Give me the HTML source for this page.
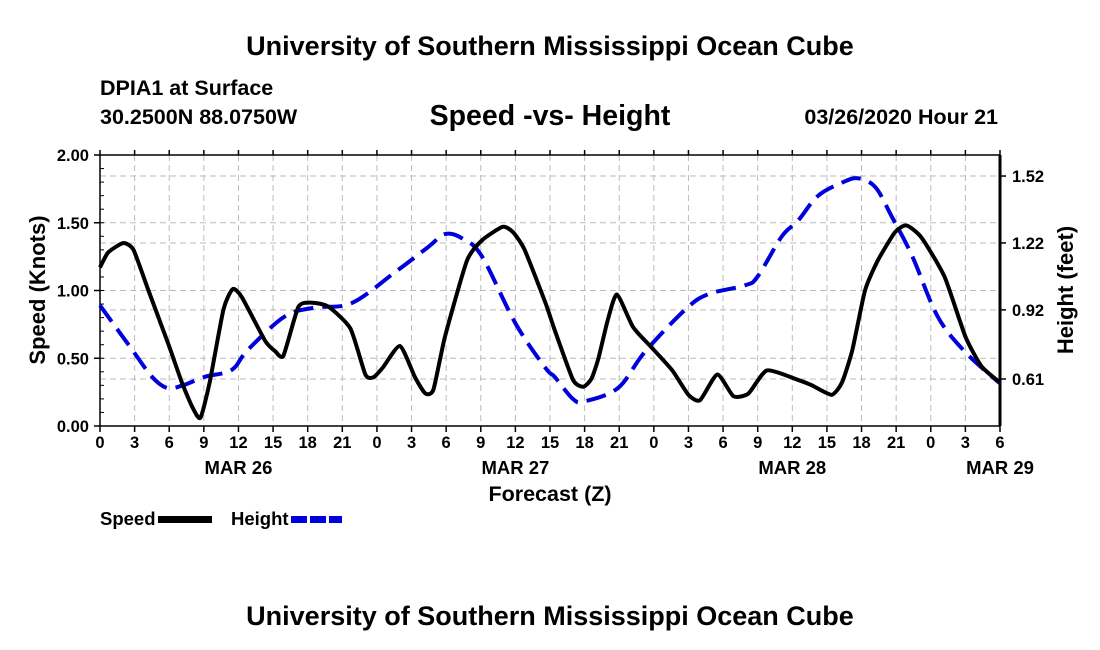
<!DOCTYPE html>
<html><head><meta charset="utf-8"><style>
body{margin:0;background:#fff}
svg{display:block;font-family:"Liberation Sans",Arial,sans-serif;font-weight:bold}
</style></head><body>
<svg id="chart" width="1100" height="650" viewBox="0 0 1100 650">
<rect width="1100" height="650" fill="#fff"/>
<text x="550" y="55" text-anchor="middle" font-size="27">University of Southern Mississippi Ocean Cube</text>
<text x="100" y="95" font-size="21.5">DPIA1 at Surface</text>
<text x="100" y="124" font-size="21.5">30.2500N 88.0750W</text>
<text x="550" y="125" text-anchor="middle" font-size="28.5">Speed -vs- Height</text>
<text x="998" y="124" text-anchor="end" font-size="21.5">03/26/2020 Hour 21</text>
<text transform="translate(45,290) rotate(-90)" text-anchor="middle" font-size="22">Speed (Knots)</text>
<text transform="translate(1073,290) rotate(-90)" text-anchor="middle" font-size="22">Height (feet)</text>
<text x="550" y="501" text-anchor="middle" font-size="21.5">Forecast (Z)</text>
<g id="grid"></g><g id="axes"></g><g id="series"></g>
<g>
<text x="100" y="525" font-size="18.5">Speed</text>
<rect x="158" y="516" width="54" height="7" fill="#000"/>
<text x="231" y="525" font-size="18.5">Height</text>
<line x1="291" y1="519.5" x2="342" y2="519.5" stroke="#0000dd" stroke-width="7" stroke-dasharray="16,3"/>
</g>
<text x="550" y="625" text-anchor="middle" font-size="27">University of Southern Mississippi Ocean Cube</text>
</svg>
<script>
const speedHours=[0,0.7,2,2.9,4.2,5.9,7.1,8,8.7,9.5,10.7,11.5,12.3,14.3,15.2,15.9,17.2,18.4,19.8,21.7,23,23.7,24.5,26,27.3,28.2,28.9,29.9,31.8,33.1,34.9,35.8,36.8,38.6,39.4,41,41.9,42.6,43.2,44,44.8,46.2,47.8,49.6,51,52,53.5,54.9,56.2,57.8,60.5,61.7,63.4,64.3,65.2,66.3,67.4,68.9,69.9,71.2,73.2,75,76.4,78];
const speedValues=[1.17,1.28,1.35,1.30,1.00,0.61,0.32,0.14,0.06,0.32,0.86,1.01,0.95,0.63,0.55,0.52,0.88,0.91,0.88,0.72,0.38,0.36,0.43,0.59,0.36,0.24,0.27,0.66,1.22,1.37,1.47,1.43,1.30,0.91,0.71,0.34,0.29,0.35,0.50,0.78,0.97,0.73,0.58,0.41,0.23,0.19,0.38,0.22,0.24,0.41,0.34,0.30,0.23,0.32,0.56,1.00,1.22,1.43,1.48,1.39,1.10,0.66,0.44,0.32];
const heightHours=[0,2.8,4.5,5.8,7.1,9.1,11.4,12.8,16,18.6,21.8,25.6,28.4,29.9,31.4,33.1,36,38.6,39.4,41,42,44.9,47.2,50.7,52.7,55.9,57,59.1,60.5,62.2,64.3,65.7,67.2,68.6,70.4,72.6,75,78];
const heightValues=[0.94,0.74,0.62,0.57,0.58,0.62,0.65,0.74,0.89,0.93,0.95,1.09,1.20,1.26,1.24,1.16,0.86,0.66,0.62,0.52,0.51,0.57,0.73,0.92,0.99,1.03,1.07,1.25,1.32,1.43,1.49,1.51,1.47,1.34,1.16,0.89,0.73,0.59];
const speedTicks=[0,0.5,1.0,1.5,2.0];
const speedTickLabels=["0.00","0.50","1.00","1.50","2.00"];
const heightTicks=[0.61,0.92,1.22,1.52];
const heightTickLabels=["0.61","0.92","1.22","1.52"];
const xTickLabels=["0","3","6","9","12","15","18","21","0","3","6","9","12","15","18","21","0","3","6","9","12","15","18","21","0","3","6"];
const dayLabels=["MAR 26","MAR 27","MAR 28","MAR 29"];
const dayHours=[12,36,60,78];

const L=100,R=1000,T=155,B=426,HMAX=78,HMIN_H=0.3993,HMAX_H=1.6143;
const xs=h=>L+h/HMAX*(R-L);
const ys=v=>B-v/2*(B-T);
const yh=v=>B-(v-HMIN_H)/(HMAX_H-HMIN_H)*(B-T);
const NS="http://www.w3.org/2000/svg";
function mk(tag,attrs,parent){const e=document.createElementNS(NS,tag);for(const k in attrs)e.setAttribute(k,attrs[k]);parent.appendChild(e);return e;}
const grid=document.getElementById('grid'),axes=document.getElementById('axes'),series=document.getElementById('series');
xTickLabels.forEach((t,i)=>{const x=xs(i*3);
 const g=mk('line',{x1:x,x2:x,y1:T,y2:B,stroke:'#bbb','stroke-width':1,'stroke-dasharray':'6,4'},grid);
 
 
 const tk=mk('line',{x1:x,x2:x,y1:B,y2:B+6,stroke:'#000','stroke-width':1.5},axes);
 
 
 const tt=mk('line',{x1:x,x2:x,y1:T-5,y2:T,stroke:'#000','stroke-width':1.5},axes);
 
 
 const lb=mk('text',{x:x,y:B+22,'text-anchor':'middle','font-size':16.5},axes);lb.textContent=t;
 
 
});
dayLabels.forEach((d,i)=>{const lb=mk('text',{x:xs(dayHours[i]),y:B+48,'text-anchor':'middle','font-size':18.5},axes);lb.textContent=d;
 
 });
speedTicks.forEach((v,i)=>{const y=ys(v);
 const g=mk('line',{x1:L,x2:R,y1:y,y2:y,stroke:'#bbb','stroke-width':1,'stroke-dasharray':'6,4'},grid);
 
 
 const tk=mk('line',{x1:L-6,x2:L,y1:y,y2:y,stroke:'#000','stroke-width':1.5},axes);
 
 
 const lb=mk('text',{x:L-11,y:y+6,'text-anchor':'end','font-size':16.5},axes);lb.textContent=speedTickLabels[i];
 
 });
for(let v=0.1;v<2;v+=0.1){const y=ys(v);const m=mk('line',{x1:L,x2:L+4,y1:y,y2:y,stroke:'#000','stroke-width':1},axes);
 
 }
heightTicks.forEach((v,i)=>{const y=yh(v);
 const g=mk('line',{x1:L,x2:R,y1:y,y2:y,stroke:'#bbb','stroke-width':1,'stroke-dasharray':'6,4'},grid);
 
 
 const tk=mk('line',{x1:R,x2:R+6,y1:y,y2:y,stroke:'#000','stroke-width':1.5},axes);
 
 
 const lb=mk('text',{x:R+12,y:y+6,'font-size':16.5},axes);lb.textContent=heightTickLabels[i];
 
 });
const fr=mk('path',{d:`M${L},${B}L${L},${T}L${R},${T}M${L},${B}L${R},${B}`,fill:'none',stroke:'#000','stroke-width':1.5},axes);


const ra=mk('line',{x1:R,x2:R,y1:T,y2:B,stroke:'#000','stroke-width':3},axes);


function smooth(pts,k){let d=`M${pts[0][0]},${pts[0][1]}`;for(let i=0;i<pts.length-1;i++){const p0=pts[i-1]||pts[i],p1=pts[i],p2=pts[i+1],p3=pts[i+2]||p2;
 d+=`C${p1[0]+(p2[0]-p0[0])/k},${p1[1]+(p2[1]-p0[1])/k} ${p2[0]-(p3[0]-p1[0])/k},${p2[1]-(p3[1]-p1[1])/k} ${p2[0]},${p2[1]}`;}return d;}
const hp=heightHours.map((h,i)=>[xs(h),yh(heightValues[i])]);
const hl=mk('path',{d:smooth(hp,6),fill:'none',stroke:'#0000dd','stroke-width':4,'stroke-dasharray':'20,9'},series);


const sp=speedHours.map((h,i)=>[xs(h),ys(speedValues[i])]);
const sl=mk('path',{d:smooth(sp,10),fill:'none',stroke:'#000','stroke-width':4,'stroke-linejoin':'round'},series);


</script>
</body></html>
